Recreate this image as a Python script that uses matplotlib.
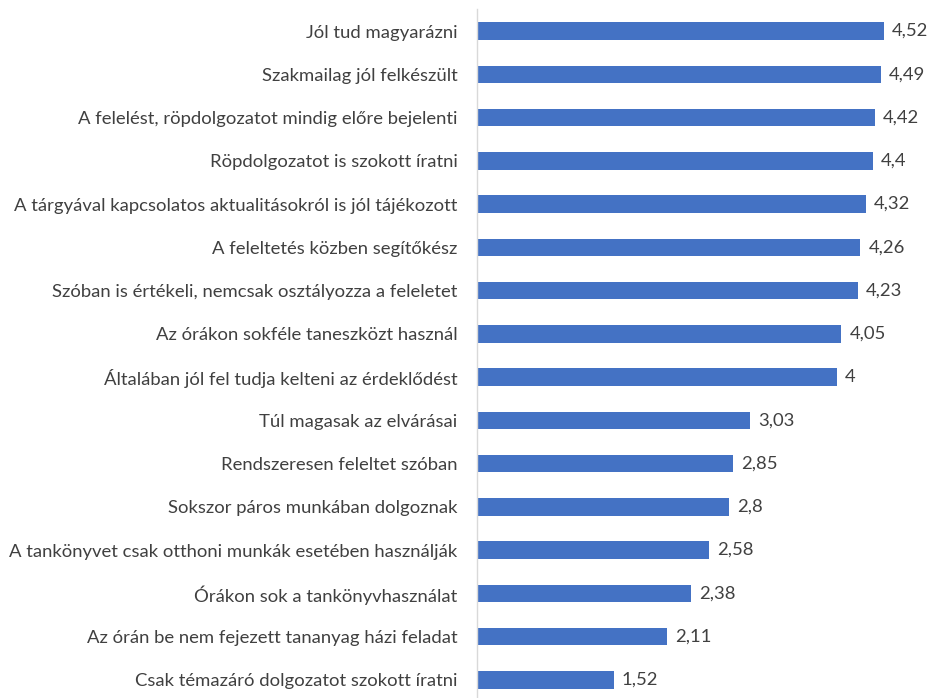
import matplotlib.pyplot as plt

labels = [
    "Jól tud magyarázni",
    "Szakmailag jól felkészült",
    "A felelést, röpdolgozatot mindig előre bejelenti",
    "Röpdolgozatot is szokott íratni",
    "A tárgyával kapcsolatos aktualitásokról is jól tájékozott",
    "A feleltetés közben segítőkész",
    "Szóban is értékeli, nemcsak osztályozza a feleletet",
    "Az órákon sokféle taneszközt használ",
    "Általában jól fel tudja kelteni az érdeklődést",
    "Túl magasak az elvárásai",
    "Rendszeresen feleltet szóban",
    "Sokszor páros munkában dolgoznak",
    "A tankönyvet csak otthoni munkák esetében használják",
    "Órákon sok a tankönyvhasználat",
    "Az órán be nem fejezett tananyag házi feladat",
    "Csak témazáró dolgozatot szokott íratni",
]
values = [4.52, 4.49, 4.42, 4.4, 4.32, 4.26, 4.23, 4.05, 4, 3.03, 2.85, 2.8, 2.58, 2.38, 2.11, 1.52]
value_text = ["4,52", "4,49", "4,42", "4,4", "4,32", "4,26", "4,23", "4,05", "4",
              "3,03", "2,85", "2,8", "2,58", "2,38", "2,11", "1,52"]

plt.rcParams['font.family'] = ['Lato', 'DejaVu Sans']

fig = plt.figure(figsize=(9.34, 6.98), dpi=100)
ax = fig.add_axes([0.5107, -0.005, 0.4818, 0.9914])

pos = list(range(len(labels)))[::-1]
ax.barh(pos, values, height=0.4, color='#4472C4')
for y, v, t in zip(pos, values, value_text):
    ax.text(v + 0.09, y, t, va='center', ha='left', fontsize=13.3, color='#404040')

ax.set_xlim(0, 5)
ax.set_ylim(-0.5, len(labels) - 0.5)
ax.set_yticks(pos)
ax.set_yticklabels(labels, fontsize=13.3, color='#404040')
ax.tick_params(axis='y', length=0, pad=14)
ax.set_xticks([])
for s in ['top', 'right', 'bottom']:
    ax.spines[s].set_visible(False)
ax.spines['left'].set_color('#D9D9D9')
ax.spines['left'].set_linewidth(1)

fig.savefig('out.png', dpi=100)
